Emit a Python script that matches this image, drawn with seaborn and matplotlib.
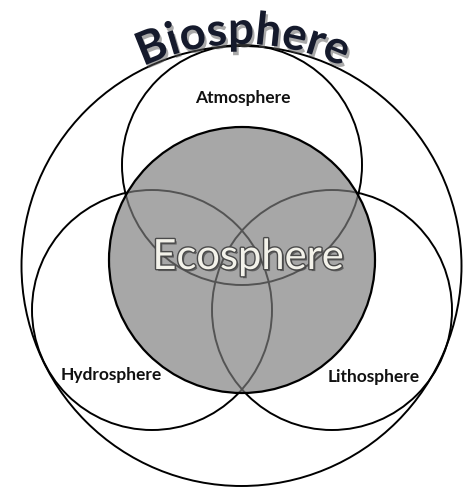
import matplotlib
matplotlib.use("Agg")
import matplotlib.pyplot as plt
import matplotlib.patheffects as pe
from matplotlib.patches import Circle
import seaborn as sns
import numpy as np

# circle data (image pixel units, y grows downward)
spheres = ["Biosphere", "Atmosphere", "Hydrosphere", "Lithosphere", "Ecosphere"]
center_x = [241.5, 242, 152, 332, 242]
center_y = [266, 165, 310, 310, 260]
radius = [220, 120, 120, 120, 133]

# label positions
label_names = ["Atmosphere", "Hydrosphere", "Lithosphere"]
label_x = [243, 111, 374]
label_y = [98, 375, 377]

W, H = 463, 491

sns.set_theme(style="white")
plt.rcParams["font.family"] = ["Lato", "DejaVu Sans"]

fig = plt.figure(figsize=(W / 100, H / 100), dpi=100)
ax = fig.add_axes([0, 0, 1, 1])
ax.set_xlim(0, W)
ax.set_ylim(H, 0)
ax.set_aspect("equal")
ax.axis("off")

# plain outline circles
for name, cx, cy, r in zip(spheres, center_x, center_y, radius):
    if name == "Ecosphere":
        continue
    ax.add_patch(Circle((cx, cy), r, facecolor="none", edgecolor="black", lw=1.4, zorder=2))

# ecosphere: translucent gray on top, black rim
i = spheres.index("Ecosphere")
ax.add_patch(Circle((center_x[i], center_y[i]), radius[i], facecolor="#7d7d7d",
                    alpha=0.68, edgecolor="none", zorder=3))
ax.add_patch(Circle((center_x[i], center_y[i]), radius[i], facecolor="none",
                    edgecolor="black", lw=1.6, zorder=4))

# small labels
for name, x, y in zip(label_names, label_x, label_y):
    ax.text(x, y, name, ha="center", va="center", fontsize=12.5, fontweight="bold",
            color="#111111", zorder=6)

# big ecosphere label
ax.text(248, 257, "Ecosphere", ha="center", va="center", fontsize=30, color="#f3f2ea",
        zorder=6,
        path_effects=[pe.SimplePatchShadow(offset=(1.5, -1.5), shadow_rgbFace="#333333", alpha=0.6),
                      pe.withStroke(linewidth=2, foreground="#4a4a4a")])

# curved "Biosphere" title along an arc
title = "Biosphere"
arc_cx, arc_cy, arc_r = 243, 276, 232
fig.canvas.draw()
renderer = fig.canvas.get_renderer()
widths = []
for ch in title:
    t = ax.text(0, 0, ch, fontsize=33, fontweight="bold")
    widths.append(t.get_window_extent(renderer).width)
    t.remove()
total = sum(widths)
theta = np.pi / 2 + (total / 2) / arc_r
for ch, w in zip(title, widths):
    mid = theta - (w / 2) / arc_r
    x = arc_cx + arc_r * np.cos(mid)
    y = arc_cy - arc_r * np.sin(mid)
    ax.text(x, y, ch, fontsize=33, fontweight="bold", color="#151a2c",
            rotation=np.degrees(mid) - 90, rotation_mode="anchor",
            ha="center", va="baseline", zorder=7,
            path_effects=[pe.SimplePatchShadow(offset=(1.5, -2.5), shadow_rgbFace="#555555", alpha=0.5),
                          pe.Normal()])
    theta -= w / arc_r

fig.savefig("out.png", dpi=100)
